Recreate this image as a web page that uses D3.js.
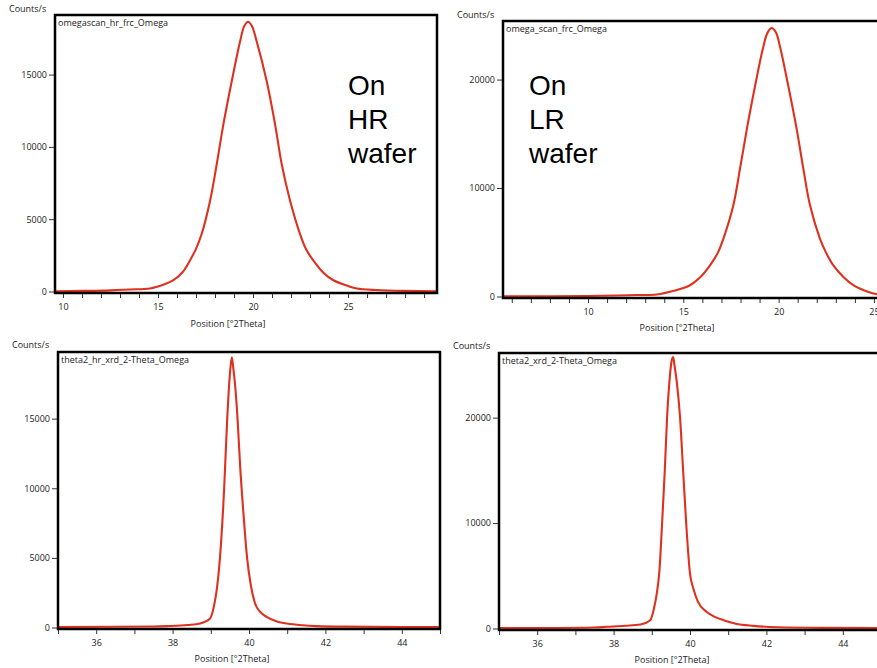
<!DOCTYPE html>
<html>
<head>
<meta charset="utf-8">
<script src="https://cdn.jsdelivr.net/npm/d3@7"></script>
<style>
  body { margin: 0; background: #fff; overflow: hidden; }
  svg { display: block; }
  .small { font-family: "Open Sans", sans-serif; font-size: 9px; fill: #222; }
  .big { font-family: "Liberation Sans", Arial, sans-serif; font-size: 28px; fill: #000; }
</style>
</head>
<body>
<div id="chart"></div>
<script>
// omega scans (top row)
const hrOmegaPos = [9.6, 11, 12.5, 13.5, 14.58, 15.3, 15.81, 16.3, 16.68, 17.0, 17.3, 17.74, 18.09, 18.44, 18.88, 19.32, 19.54, 19.74, 19.94, 20.19, 20.72, 21.16, 21.51, 21.95, 22.47, 22.8, 23.17, 23.7, 24.23, 25.0, 25.46, 26.5, 28, 29.7];
const hrOmegaCounts = [20, 40, 80, 140, 206, 480, 780, 1350, 2150, 2950, 3990, 6280, 8800, 11560, 14540, 17300, 18360, 18650, 18360, 17300, 14540, 11560, 8800, 6280, 3990, 2900, 2150, 1300, 780, 380, 206, 100, 40, 20];

const lrOmegaPos = [5.5, 8, 10, 11.5, 12.5, 13.6, 14.5, 15.35, 15.9, 16.4, 16.8, 17.1, 17.62, 17.97, 18.33, 18.76, 19.2, 19.42, 19.64, 19.86, 20.07, 20.51, 20.95, 21.3, 21.65, 22.17, 22.5, 22.87, 23.4, 23.92, 24.5, 24.97, 25.6];
const lrOmegaCounts = [20, 30, 50, 90, 140, 180, 520, 1040, 1800, 2870, 4000, 5320, 8380, 11740, 15410, 19380, 23050, 24330, 24750, 24330, 23050, 19380, 15410, 11740, 8380, 5320, 4000, 2870, 1800, 1040, 550, 275, 120];

// 2theta-omega scans (bottom row)
const hrThetaPos = [35.0, 36.5, 37.5, 37.86, 38.4, 38.72, 38.98, 39.08, 39.16, 39.24, 39.35, 39.43, 39.5, 39.55, 39.59, 39.63, 39.7, 39.77, 39.86, 39.95, 40.05, 40.15, 40.3, 40.46, 40.75, 40.99, 41.4, 41.77, 42.5, 44, 45];
const hrThetaCounts = [40, 50, 70, 100, 180, 285, 640, 1500, 2786, 5000, 10000, 15000, 18200, 19400, 18600, 17600, 15000, 11500, 8000, 5000, 3000, 1800, 1100, 765, 420, 285, 160, 100, 60, 40, 40];

const lrThetaPos = [35.0, 36.5, 37.5, 37.82, 38.3, 38.7, 38.96, 39.05, 39.13, 39.2, 39.27, 39.34, 39.4, 39.47, 39.52, 39.56, 39.6, 39.65, 39.74, 39.82, 39.9, 40.0, 40.09, 40.2, 40.44, 40.65, 40.88, 41.2, 41.66, 42.3, 43.5, 45];
const lrThetaCounts = [40, 50, 90, 160, 260, 380, 790, 1800, 3300, 5500, 10000, 15000, 20000, 23800, 25400, 25750, 24800, 23500, 20000, 15000, 10000, 5200, 3770, 2600, 1570, 1100, 790, 450, 250, 120, 60, 40];

const scanNames = ["omegascan_hr_frc_Omega", "omega_scan_frc_Omega", "theta2_hr_xrd_2-Theta_Omega", "theta2_xrd_2-Theta_Omega"];
const omegaXLabels = [10, 15, 20, 25];
const thetaXLabels = [36, 38, 40, 42, 44];
const hrOmegaYTicks = [0, 5000, 10000, 15000];
const lrOmegaYTicks = [0, 10000, 20000];
const hrThetaYTicks = [0, 5000, 10000, 15000];
const lrThetaYTicks = [0, 10000, 20000];
const waferNotes = [["On", "HR", "wafer"], ["On", "LR", "wafer"]];

const width = 877, height = 668;

const panels = [
  { pos: hrOmegaPos, counts: hrOmegaCounts, name: scanNames[0], xLabels: omegaXLabels, yTicks: hrOmegaYTicks,
    xDomain: [9.58, 29.68], yMax: 19120, left: 55, top: 15, right: 437, bottom: 293, smooth: true,
    countsAt: [9, 12], posLabelAt: [228, 327], note: waferNotes[0], noteAt: [348, 95] },
  { pos: lrOmegaPos, counts: lrOmegaCounts, name: scanNames[1], xLabels: omegaXLabels, yTicks: lrOmegaYTicks,
    xDomain: [5.54, 25.58], yMax: 25400, left: 503, top: 21, right: 885, bottom: 298, smooth: true,
    countsAt: [457, 18], posLabelAt: [677, 331], note: waferNotes[1], noteAt: [529, 95] },
  { pos: hrThetaPos, counts: hrThetaCounts, name: scanNames[2], xLabels: thetaXLabels, yTicks: hrThetaYTicks,
    xDomain: [35, 45], yMax: 19786, left: 58, top: 352, right: 440, bottom: 629, smooth: false,
    countsAt: [12, 348], posLabelAt: [232, 662], note: null },
  { pos: lrThetaPos, counts: lrThetaCounts, name: scanNames[3], xLabels: thetaXLabels, yTicks: lrThetaYTicks,
    xDomain: [35, 45], yMax: 26130, left: 499, top: 353, right: 881, bottom: 630, smooth: false,
    countsAt: [453, 349], posLabelAt: [672, 663], note: null }
];

const svg = d3.select("#chart").append("svg")
  .attr("width", width)
  .attr("height", height);

panels.forEach((p, i) => {
  const g = svg.append("g");
  const x = d3.scaleLinear().domain(p.xDomain).range([p.left, p.right]);
  const y = d3.scaleLinear().domain([0, p.yMax]).range([p.bottom - 1.5, p.top]);

  g.append("clipPath").attr("id", "clip" + i)
    .append("rect")
    .attr("x", p.left).attr("y", p.top)
    .attr("width", p.right - p.left).attr("height", p.bottom - p.top);

  const line = d3.line()
    .x(d => x(d[0]))
    .y(d => y(d[1]))
    .curve(p.smooth ? d3.curveCatmullRom.alpha(0.5) : d3.curveMonotoneX);

  g.append("path")
    .datum(d3.zip(p.pos, p.counts))
    .attr("clip-path", "url(#clip" + i + ")")
    .attr("fill", "none")
    .attr("stroke", "#de311f")
    .attr("stroke-width", 2.1)
    .attr("d", line);

  // frame
  g.append("rect")
    .attr("x", p.left).attr("y", p.top)
    .attr("width", p.right - p.left).attr("height", p.bottom - p.top)
    .attr("fill", "none")
    .attr("stroke", "#000")
    .attr("stroke-width", 2.5);

  // y axis
  const yAxis = g.append("g")
    .attr("transform", "translate(" + (p.left - 1) + ",0)")
    .call(d3.axisLeft(y).tickValues(p.yTicks).tickSize(5).tickPadding(2).tickFormat(d3.format("d")));
  yAxis.select(".domain").remove();

  // x axis, minor tick every unit, labels on some
  const minor = d3.range(Math.ceil(p.xDomain[0]), p.xDomain[1] + 1e-9, 1);
  const xAxis = g.append("g")
    .attr("transform", "translate(0," + (p.bottom + 1) + ")")
    .call(d3.axisBottom(x).tickValues(minor).tickSize(4).tickPadding(6)
      .tickFormat(d => p.xLabels.includes(d) ? d : ""));
  xAxis.select(".domain").remove();

  g.selectAll(".tick line").attr("stroke", "#333");
  g.selectAll(".tick text").attr("class", "small").attr("font-size", null).attr("font-family", null);

  g.append("text").attr("class", "small")
    .attr("x", p.countsAt[0]).attr("y", p.countsAt[1])
    .text("Counts/s");

  g.append("text").attr("class", "small")
    .attr("x", p.left + 3).attr("y", p.top + 11)
    .text(p.name);

  g.append("text").attr("class", "small")
    .attr("x", p.posLabelAt[0]).attr("y", p.posLabelAt[1])
    .attr("text-anchor", "middle")
    .text("Position [°2Theta]");

  if (p.note) {
    p.note.forEach((t, k) => {
      g.append("text").attr("class", "big")
        .attr("x", p.noteAt[0]).attr("y", p.noteAt[1] + k * 34)
        .text(t);
    });
  }
});
</script>
</body>
</html>
